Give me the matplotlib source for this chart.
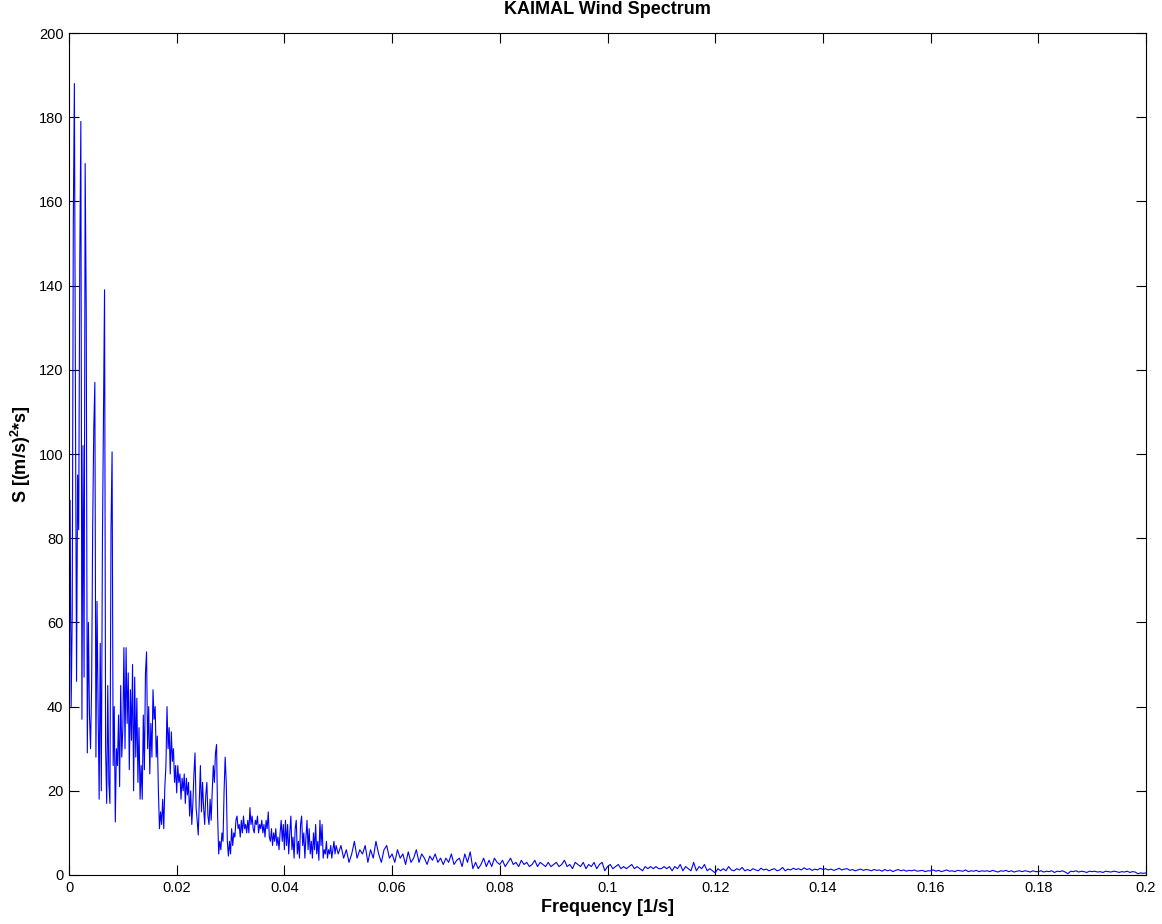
import numpy as np
import matplotlib
matplotlib.use("Agg")
import matplotlib.pyplot as plt

# Low-frequency part: 0 .. 0.0498, step 0.0002
low_step = 0.0002
low_vals = [
    35, 89, 40, 62, 155, 188, 112, 46, 95, 82,
    146, 179, 37, 102, 47, 169, 134, 29, 60, 38,
    30, 45, 83, 106, 117, 28, 65, 40, 18, 55,
    20, 78, 110, 139, 30, 17, 45, 22, 17, 82,
    100.5, 26, 40, 12.6, 30, 26, 38, 21, 45, 28,
    35, 54, 30, 54, 36, 48, 25, 44, 32, 50,
    20, 47, 28, 42, 22, 35, 18, 26, 18, 38,
    25, 48, 53, 30, 40, 24, 36, 28, 44, 37,
    40, 28, 33, 20, 11, 15, 12, 18, 11, 21,
    26, 40, 30, 35, 24, 34, 27, 30, 22, 26,
    19.5, 26, 22, 24, 18, 23, 20, 24, 17, 23,
    19, 22, 14, 20, 12, 17, 24, 29, 16, 13,
    9.5, 18, 26, 15, 22, 16, 12, 19, 22, 14,
    12, 18, 13, 20, 26, 22, 29, 31, 14, 5,
    8, 6, 10, 8, 20, 28, 22, 8, 4.5, 8,
    5, 11, 7, 10, 9, 13, 14, 11, 12, 9,
    13, 10, 14, 11, 12, 10, 13, 10, 16, 12,
    14, 11, 10, 13, 12, 14, 10, 12, 11, 13,
    10, 12, 9, 13, 11, 15, 9, 8, 11, 7,
    10, 8, 11, 7, 9, 6, 10, 13, 8, 12,
    6, 13, 7, 12, 5, 10, 14, 6, 9, 4,
    11, 13, 5, 8, 4, 12, 14, 7, 10, 4,
    9, 13, 6, 11, 5, 8, 4, 10, 6, 12,
    5, 8, 3.5, 13, 7, 12, 4, 6, 5, 8,
    4, 6, 5, 7, 4, 6, 8, 5, 7, 6,
]

# High-frequency part: 0.05 .. 0.2, step 0.0005
high_step = 0.0005
high_vals = [
    5, 7, 4, 6, 3, 5, 8, 4, 6, 5, 7, 3, 6, 4, 8, 5, 3, 6, 7, 4,
    5, 3, 6, 4, 5, 2.5, 5.5, 3, 4, 6, 3, 5, 4, 2.5, 4.5, 3.5, 5, 3, 4, 2.5,
    4, 3, 5, 2.5, 3.5, 4, 2, 5, 3, 5.5, 1.5, 3, 1.5, 2.5, 4, 2, 3.5, 2, 4, 3,
    2.5, 3.5, 2, 3, 4, 2.5, 3, 2, 3.5, 2.5, 3, 2, 2.5, 3.5, 2, 3, 2.5, 2, 3, 2,
    2.5, 3, 2, 2.5, 3.5, 2, 2.5, 1.5, 3, 2.5, 2, 3, 1.5, 2.5, 2, 3, 1.5, 2.5, 3, 1,
    2, 2.5, 1.5, 2, 2.5, 1.5, 2, 1.5, 2, 2.5, 1.5, 2, 1.5, 1, 2, 1.5, 2, 1.5, 2, 1.5,
    1.5, 2, 1.5, 2, 1, 2, 1.5, 2.5, 1, 2, 1.5, 1, 3, 1, 2, 1.5, 2.5, 1, 1.5, 1,
    0.5, 1.5, 1, 1.5, 1, 2, 1.2, 1, 1.5, 1.2, 1.8, 1, 1.3, 1, 1.5, 1.2, 1, 1.6, 1.2, 1.4,
    1, 1.3, 1.5, 1, 1.2, 1.8, 1, 1.4, 1.2, 1.6, 1.3, 1.5, 1.2, 1.7, 1.3, 1.5, 1.1, 1.4, 1.2, 1.6,
    1.3, 1.5, 1.2, 1.4, 1.1, 1.3, 1.6, 1.2, 1.4, 1.5, 1.1, 1.3, 1, 1.2, 1.4, 1.1, 1.3, 1.2, 1, 1.3,
    1.1, 1.2, 0.9, 1.3, 1, 1.2, 0.8, 1.1, 1.3, 1, 1.2, 0.9, 1.1, 1, 1.2, 0.9, 1, 1.1, 0.8, 1,
    1, 1.2, 0.9, 1.1, 0.8, 1, 1.2, 0.9, 1, 0.8, 1.1, 1, 0.9, 1.2, 0.8, 1, 0.9, 1.1, 0.8, 1,
    0.9, 1, 0.8, 1.1, 0.9, 0.7, 1, 0.9, 1.1, 0.8, 1, 0.7, 0.9, 1, 0.8, 1, 0.9, 0.7, 1, 0.8,
    0.8, 1, 0.7, 0.9, 0.8, 1, 0.6, 0.9, 0.8, 1, 0.7, 0.3, 0.9, 0.8, 1, 0.7, 0.9, 0.8, 0.6, 0.9,
    0.8, 0.9, 0.7, 0.8, 0.6, 0.9, 0.8, 0.7, 0.9, 0.8, 0.6, 0.8, 0.7, 0.9, 0.6, 0.8, 0.7, 0.3, 0.5, 0.4,
    0.5,
]

x_ticks = [0, 0.02, 0.04, 0.06, 0.08, 0.1, 0.12, 0.14, 0.16, 0.18, 0.2]
x_tick_labels = ["0", "0.02", "0.04", "0.06", "0.08", "0.1", "0.12", "0.14", "0.16", "0.18", "0.2"]
y_ticks = [0, 20, 40, 60, 80, 100, 120, 140, 160, 180, 200]

f_low = np.arange(len(low_vals)) * low_step
f_high = 0.05 + np.arange(len(high_vals)) * high_step
freq = np.concatenate([f_low, f_high])
spec = np.array(low_vals + high_vals, dtype=float)

plt.rcParams['font.family'] = ['Liberation Sans', 'DejaVu Sans']
plt.rcParams['mathtext.fontset'] = 'custom'
plt.rcParams['mathtext.rm'] = 'Liberation Sans'
plt.rcParams['mathtext.bf'] = 'Liberation Sans:bold'

fig = plt.figure(figsize=(11.62, 9.24), dpi=100)
ax = fig.add_axes([69/1162, 49/924, 1077/1162, 842/924])
ax.plot(freq, spec, color='#0000ff', linewidth=0.8)
ax.set_xlim(0, 0.2)
ax.set_ylim(0, 200)
ax.set_xticks(x_ticks)
ax.set_xticklabels(x_tick_labels)
ax.set_yticks(y_ticks)
ax.tick_params(direction='in', top=True, right=True, length=7, width=0.8,
               labelsize=10.5, colors='black', pad=4)
for s in ax.spines.values():
    s.set_linewidth(0.8)
ax.set_title('KAIMAL Wind Spectrum', fontsize=13, fontweight='bold', pad=14)
ax.set_xlabel('Frequency [1/s]', fontsize=13, fontweight='bold', labelpad=3)
ax.set_ylabel(r'S [(m/s)$^{\mathbf{2}}$*s]', fontsize=13, fontweight='bold', labelpad=4)

fig.savefig('out.png', dpi=100)
